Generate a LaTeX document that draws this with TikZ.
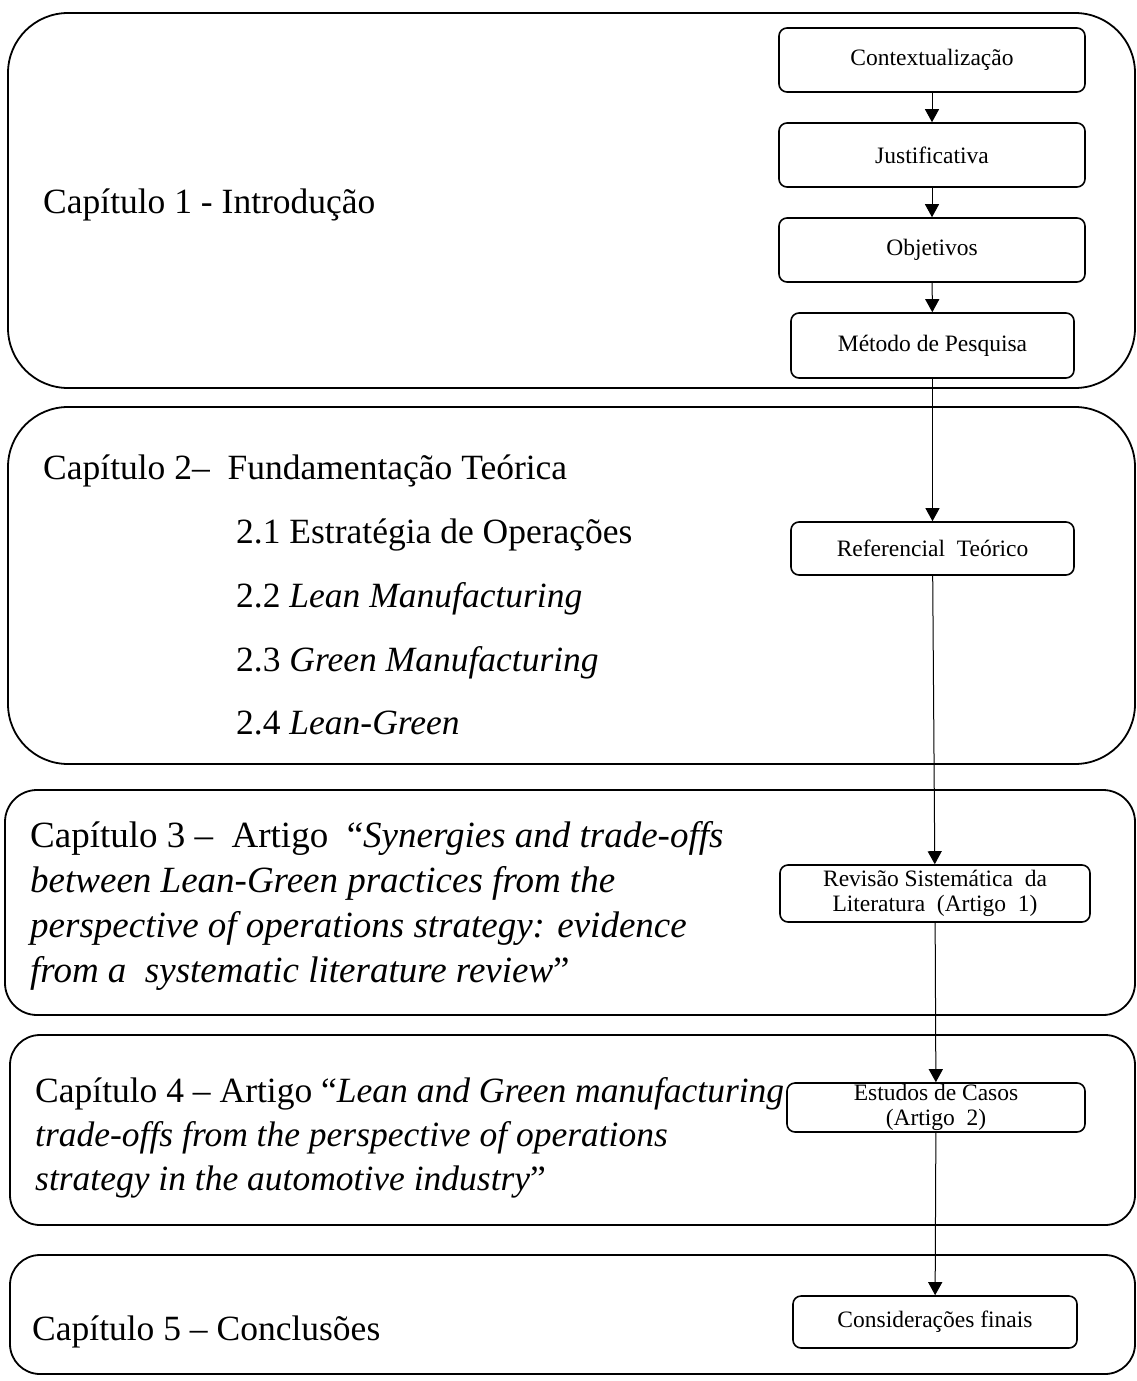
\documentclass[tikz,border=0pt]{standalone}
\usepackage{fontspec}
\setmainfont{Liberation Serif}
\usetikzlibrary{arrows.meta}
\begin{document}
\begin{tikzpicture}[x=1pt,y=-1pt,
  panel/.style={draw, line width=1.8pt, rounded corners=#1},
  box/.style={draw, line width=1.6pt, rounded corners=8pt, align=center,
    inner sep=0pt, font=\fontsize{23.5}{25}\selectfont},
  chap/.style={anchor=base west, inner sep=0pt, align=left,
    font=\fontsize{35.5}{45}\selectfont},
  arr/.style={-{Triangle[length=13pt,width=14pt]}, line width=1pt}]
\useasboundingbox (0,0) rectangle (1137,1381);
% chapter panels
\draw[panel=60pt] (8,13) rectangle (1135,388);
\draw[panel=60pt] (8,407) rectangle (1135,764);
\draw[panel=32pt] (5,790) rectangle (1135,1015);
\draw[panel=30pt] (10,1035) rectangle (1135,1225);
\draw[panel=30pt] (10,1255) rectangle (1135,1374);
% chapter texts
\node[chap] (c1) at (43,213) {Capítulo 1 - Introdução};
\node[chap] (c2) at (43,479) {Capítulo 2–\ \ Fundamentação Teórica};
\node[chap] (c21) at (236,543) {2.1 Estratégia de Operações};
\node[chap] (c22) at (236,607) {2.2 \textit{Lean Manufacturing}};
\node[chap] (c23) at (236,671) {2.3 \textit{Green Manufacturing}};
\node[chap] (c24) at (236,734) {2.4 \textit{Lean-Green}};
% multi-line nodes: base anchor is the baseline of the last line
\node[chap, font=\fontsize{37}{45}\selectfont] (c3) at (30,982) {Capítulo 3 –\ \ Artigo\ \ “\textit{Synergies and trade-offs}\\
\textit{between Lean-Green practices from the}\\
\textit{perspective of operations strategy: evidence}\\
\textit{from a\ \ systematic literature review}”};
\node[chap, font=\fontsize{35.5}{44}\selectfont] (c4) at (35,1190) {Capítulo 4 – Artigo “\textit{Lean and Green manufacturing}\\
\textit{trade-offs from the perspective of operations}\\
\textit{strategy in the automotive industry}”};
\node[chap] (c5) at (32,1340) {Capítulo 5 – Conclusões};
% flow boxes
\node[box, minimum width=306pt, minimum height=64pt] (ctx) at (932,60) {Contextualização};
\node[box, minimum width=306pt, minimum height=64pt] (jus) at (932,155) {Justificativa};
\node[box, minimum width=306pt, minimum height=64pt] (obj) at (932,250) {Objetivos};
\node[box, minimum width=283pt, minimum height=65pt] (met) at (932.5,345.5) {Método de Pesquisa};
\node[box, minimum width=283pt, minimum height=53pt] (ref) at (932.5,548.5) {Referencial\ \ Teórico};
\node[box, minimum width=310pt, minimum height=57pt] (rev) at (935,893.5) {Revisão Sistemática\ \ da\\Literatura\ \ (Artigo\ \ 1)};
\node[box, minimum width=298pt, minimum height=49pt, font=\fontsize{23.5}{25}\selectfont] (est) at (936,1107.5) {Estudos de Casos\\(Artigo\ \ 2)};
\node[box, minimum width=284pt, minimum height=52pt] (con) at (935,1322) {Considerações finais};
% connectors
\draw[arr] (ctx) -- (jus);
\draw[arr] (jus) -- (obj);
\draw[arr] (obj) -- (met);
\draw[arr] (met) -- (ref);
\draw[arr] (ref) -- (rev);
\draw[arr] (rev) -- (est);
\draw[arr] (est) -- (con);
\end{tikzpicture}
\end{document}
